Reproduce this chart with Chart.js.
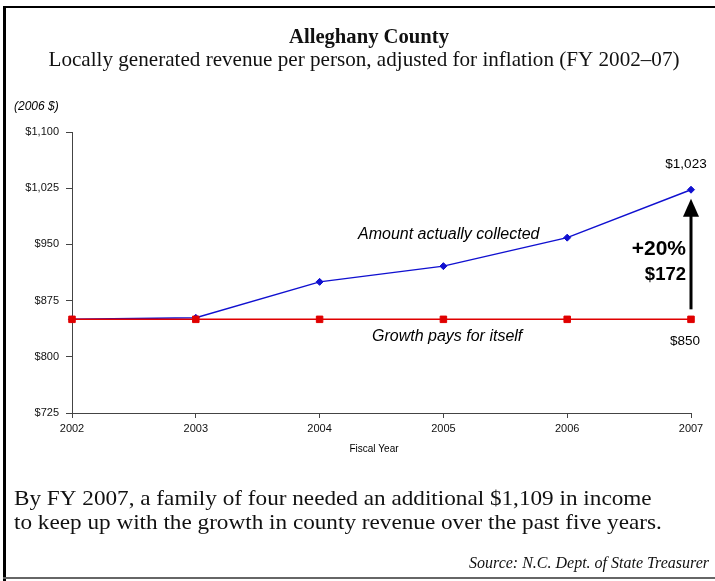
<!DOCTYPE html>
<html>
<head>
<meta charset="utf-8">
<script src="https://cdn.jsdelivr.net/npm/chart.js@4.4.1/dist/chart.umd.min.js"></script>
<style>
  html, body { margin: 0; padding: 0; background: #fff; }
  #wrap { position: relative; width: 715px; height: 581px; }
</style>
</head>
<body>
<div id="wrap"><canvas id="myChart" width="715" height="581"></canvas></div>
<script>
const years = ["2002", "2003", "2004", "2005", "2006", "2007"];
const collected = [850, 852, 900, 921, 959, 1023];
const selfPaying = [850, 850, 850, 850, 850, 850];
const yTicks = [725, 800, 875, 950, 1025, 1100];

const serif = "'Liberation Serif', 'Times New Roman', serif";
const sans = "'Liberation Sans', Arial, sans-serif";

// draw text at a fixed size, squeezed sideways by factor k (or to a width)
function squeezeText(ctx, text, font, k, x, y, align) {
  ctx.save();
  ctx.font = font;
  const w = ctx.measureText(text).width * k;
  let x0 = x;
  if (align === "center") x0 = x - w / 2;
  if (align === "right") x0 = x - w;
  ctx.translate(x0, y);
  ctx.scale(k, 1);
  ctx.textAlign = "left";
  ctx.fillText(text, 0, 0);
  ctx.restore();
}
function ratio(ctx, text, font, width) {
  ctx.font = font;
  return width / ctx.measureText(text).width;
}

const note1 = "By FY 2007, a family of four needed an additional $1,109 in income";
const note2 = "to keep up with the growth in county revenue over the past five years.";

const decor = {
  id: "decor",
  beforeDraw(chart) {
    const ctx = chart.ctx;
    ctx.save();
    ctx.fillStyle = "#fff";
    ctx.fillRect(0, 0, 715, 581);
    // frame
    ctx.fillStyle = "#000";
    ctx.fillRect(3, 6, 712, 2);
    ctx.fillRect(3, 6, 3, 575);
    ctx.fillStyle = "#666";
    ctx.fillRect(3, 577, 712, 2);
    ctx.restore();
  },
  afterDraw(chart) {
    const ctx = chart.ctx;
    const x = chart.scales.x, y = chart.scales.y;
    ctx.save();
    ctx.fillStyle = "#111";
    ctx.textBaseline = "alphabetic";
    const tf = "bold 20px " + serif, sf = "21px " + serif, nf = "21px " + serif;
    const title = "Alleghany County";
    const sub = "Locally generated revenue per person, adjusted for inflation (FY 2002\u201307)";
    squeezeText(ctx, title, tf, ratio(ctx, title, tf, 160), 369, 43, "center");
    squeezeText(ctx, sub, sf, ratio(ctx, sub, sf, 631), 364, 66, "center");
    const kn = (ratio(ctx, note1, nf, 603) + ratio(ctx, note2, nf, 683)) / 2;
    squeezeText(ctx, note1, nf, kn, 14, 505);
    squeezeText(ctx, note2, nf, kn, 14, 529);
    const src = "Source: N.C. Dept. of State Treasurer", srf = "italic 16px " + serif;
    squeezeText(ctx, src, srf, ratio(ctx, src, srf, 240), 709, 568, "right");

    ctx.fillStyle = "#000";
    ctx.font = "italic 12px " + sans;
    ctx.textAlign = "left";
    ctx.fillText("(2006 $)", 14, 110);

    ctx.font = "10px " + sans;
    ctx.textAlign = "center";
    ctx.fillText("Fiscal Year", 374, 452);

    ctx.font = "italic 16px " + sans;
    ctx.textAlign = "left";
    ctx.fillText("Amount actually collected", 358, 239);
    ctx.fillText("Growth pays for itself", 372, 341);

    const x7 = x.getPixelForValue(5);
    const yTop = y.getPixelForValue(collected[5]);
    const yBot = y.getPixelForValue(selfPaying[5]);
    ctx.font = "13.5px " + sans;
    ctx.textAlign = "center";
    ctx.fillText("$" + collected[5].toLocaleString("en-US"), x7 - 5, yTop - 22);
    ctx.fillText("$" + selfPaying[5], x7 - 6, yBot + 26);

    ctx.font = "bold 21px " + sans;
    ctx.textAlign = "right";
    ctx.fillText("+20%", 686, 255);
    ctx.font = "bold 18.5px " + sans;
    ctx.fillText("$172", 686, 280);

    // arrow from the flat line up to the 2007 value
    ctx.fillStyle = "#000";
    ctx.fillRect(x7 - 1.5, yTop + 24, 3, yBot - 10 - (yTop + 24));
    ctx.beginPath();
    ctx.moveTo(x7, yTop + 9);
    ctx.lineTo(x7 + 8, yTop + 27);
    ctx.lineTo(x7 - 8, yTop + 27);
    ctx.closePath();
    ctx.fill();
    ctx.restore();
  }
};

new Chart("myChart", {
  type: "line",
  data: {
    labels: years,
    datasets: [{
      data: selfPaying,
      borderColor: "#e00000",
      backgroundColor: "#e00000",
      borderWidth: 1.5,
      pointStyle: "rect",
      pointRadius: 4.6,
      pointBorderWidth: 1,
      tension: 0
    }, {
      data: collected,
      borderColor: "#1010d0",
      backgroundColor: "#1010d0",
      borderWidth: 1.5,
      pointStyle: "rectRot",
      pointRadius: 3.5,
      pointBorderWidth: 1,
      tension: 0
    }]
  },
  plugins: [decor],
  options: {
    responsive: false,
    animation: false,
    events: [],
    layout: { padding: { top: 132, right: 24, left: 0, bottom: 0 } },
    plugins: {
      legend: { display: false },
      tooltip: { enabled: false }
    },
    scales: {
      x: {
        offset: false,
        grid: { drawOnChartArea: false, drawTicks: true, tickLength: 5, color: "#444" },
        border: { color: "#444", width: 1 },
        ticks: { color: "#111", font: { family: sans, size: 11 }, padding: 4, maxRotation: 0, autoSkip: false },
        afterFit(s) { s.height = 581 - 413; }
      },
      y: {
        min: 725,
        max: 1100,
        afterBuildTicks(s) { s.ticks = yTicks.map(v => ({ value: v })); },
        grid: { drawOnChartArea: false, drawTicks: true, tickLength: 6, color: "#444" },
        border: { color: "#444", width: 1 },
        ticks: {
          color: "#111",
          font: { family: sans, size: 11 },
          padding: 7,
          callback: v => "$" + v.toLocaleString("en-US")
        },
        afterFit(s) { s.width = 72; }
      }
    }
  }
});
</script>
</body>
</html>
